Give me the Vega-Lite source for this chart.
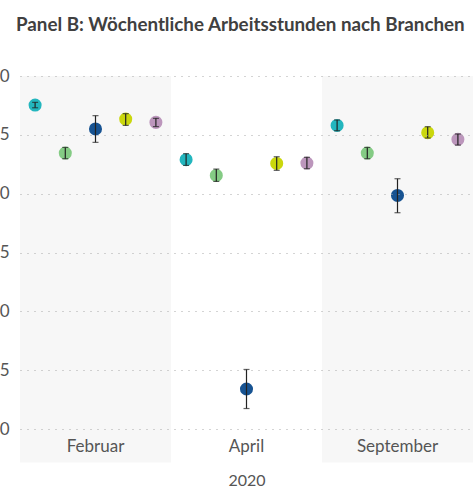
{
  "$schema": "https://vega.github.io/schema/vega-lite/v6.json",
  "autosize": "none",
  "width": 453,
  "height": 353,
  "padding": {"left": 20, "top": 76, "right": 0, "bottom": 59},
  "title": {"text": "Panel B: Wöchentliche Arbeitsstunden nach Branchen", "anchor": "start", "frame": "group", "dx": -4, "offset": 32, "font": "Lato", "fontSize": 18.8, "fontWeight": "bold", "color": "#404040"},
  "config": {"view": {"stroke": null}, "font": "Lato"},
  "datasets": {
    "bands": [
      {"monat": "Februar", "top": 40, "bottom": 7.15},
      {"monat": "September", "top": 40, "bottom": 7.15}
    ],
    "werte": [
      {"monat": "Februar", "branche": "A", "wert": 37.53, "lo": 37.3, "hi": 37.76},
      {"monat": "Februar", "branche": "B", "wert": 33.45, "lo": 32.97, "hi": 33.93},
      {"monat": "Februar", "branche": "C", "wert": 35.5, "lo": 34.36, "hi": 36.63},
      {"monat": "Februar", "branche": "D", "wert": 36.34, "lo": 35.8, "hi": 36.8},
      {"monat": "Februar", "branche": "E", "wert": 36.06, "lo": 35.7, "hi": 36.4},
      {"monat": "April", "branche": "A", "wert": 32.89, "lo": 32.4, "hi": 33.4},
      {"monat": "April", "branche": "B", "wert": 31.55, "lo": 31.04, "hi": 32.09},
      {"monat": "April", "branche": "C", "wert": 13.4, "lo": 11.74, "hi": 15.06},
      {"monat": "April", "branche": "D", "wert": 32.57, "lo": 31.98, "hi": 33.14},
      {"monat": "April", "branche": "E", "wert": 32.6, "lo": 32.12, "hi": 33.09},
      {"monat": "September", "branche": "A", "wert": 35.8, "lo": 35.35, "hi": 36.26},
      {"monat": "September", "branche": "B", "wert": 33.45, "lo": 32.97, "hi": 33.93},
      {"monat": "September", "branche": "C", "wert": 29.85, "lo": 28.38, "hi": 31.27},
      {"monat": "September", "branche": "D", "wert": 35.18, "lo": 34.73, "hi": 35.69},
      {"monat": "September", "branche": "E", "wert": 34.62, "lo": 34.13, "hi": 35.07}
    ]
  },
  "layer": [
    {
      "data": {"name": "bands"},
      "mark": {"type": "rect", "color": "#f7f7f7", "clip": false},
      "encoding": {
        "x": {"field": "monat", "type": "nominal"},
        "y": {"field": "top", "type": "quantitative"},
        "y2": {"field": "bottom"}
      }
    },
    {
      "data": {"name": "werte"},
      "mark": {"type": "point", "filled": true, "size": 170, "opacity": 0.95},
      "encoding": {
        "x": {"field": "monat", "type": "nominal"},
        "xOffset": {"field": "branche", "type": "nominal", "scale": {"paddingOuter": 0}},
        "y": {"field": "wert", "type": "quantitative"},
        "color": {"field": "branche", "type": "nominal", "legend": null,
          "scale": {"domain": ["A", "B", "C", "D", "E"], "range": ["#17b2ba", "#7dc87d", "#0b4a8c", "#c7d500", "#b890b8"]}}
      }
    },
    {
      "data": {"name": "werte"},
      "mark": {"type": "rule", "color": "#222222", "strokeWidth": 1.2},
      "encoding": {
        "x": {"field": "monat", "type": "nominal"},
        "xOffset": {"field": "branche", "type": "nominal"},
        "y": {"field": "lo", "type": "quantitative"},
        "y2": {"field": "hi"}
      }
    },
    {
      "data": {"name": "werte"},
      "mark": {"type": "tick", "color": "#222222", "orient": "horizontal", "size": 6, "thickness": 1.2},
      "encoding": {
        "x": {"field": "monat", "type": "nominal"},
        "xOffset": {"field": "branche", "type": "nominal"},
        "y": {"field": "lo", "type": "quantitative"}
      }
    },
    {
      "data": {"name": "werte"},
      "mark": {"type": "tick", "color": "#222222", "orient": "horizontal", "size": 6, "thickness": 1.2},
      "encoding": {
        "x": {"field": "monat", "type": "nominal"},
        "xOffset": {"field": "branche", "type": "nominal"},
        "y": {"field": "hi", "type": "quantitative"}
      }
    }
  ],
  "resolve": {"scale": {"x": "shared", "y": "shared"}},
  "encoding": {
    "x": {"field": "monat", "type": "nominal", "sort": ["Februar", "April", "September"],
      "scale": {"domain": ["Februar", "April", "September"], "paddingInner": 0, "paddingOuter": 0},
      "axis": {"title": "2020", "labelAngle": 0, "ticks": false, "domain": false, "labelFont": "Lato", "labelFontSize": 17, "labelColor": "#555555", "labelPadding": 9, "titleFont": "Lato", "titleFontSize": 16, "titleFontWeight": "normal", "titleColor": "#555555", "titlePadding": 18, "zindex": 1}},
    "y": {"type": "quantitative",
      "scale": {"domain": [10, 40], "nice": false, "zero": false},
      "axis": {"title": null, "values": [10, 15, 20, 25, 30, 35, 40], "ticks": false, "domain": false, "grid": true, "gridDash": [1, 6], "gridColor": "#aaaaaa", "gridWidth": 1.2, "labelFont": "Lato", "labelFontSize": 17, "labelColor": "#555555", "labelPadding": 11, "zindex": 1}}
  }
}
